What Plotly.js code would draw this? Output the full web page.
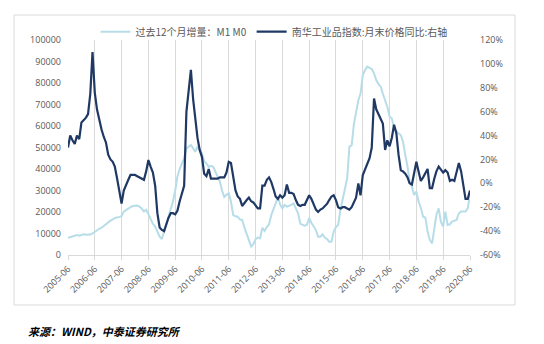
<!DOCTYPE html>
<html><head><meta charset="utf-8">
<script src="https://cdn.plot.ly/plotly-3.0.1.min.js"></script>
<style>html,body{margin:0;padding:0;background:#fff;}</style>
</head><body><div id="chart" style="width:544px;height:344px;"></div>
<script>
// Monthly series, 2005-06 .. 2020-06
const startYear = 2005, startMonthIndex = 5; // June 2005
const seriesNames = ['过去12个月增量：M1 M0', '南华工业品指数:月末价格同比:右轴'];
const m1m0Increment = [
 8000,8400,8600,9000,9300,9000,9200,9600,9400,9300,
 9500,10000,10800,11600,12200,12700,13500,14500,15500,16000,
 16600,17200,17400,17800,18100,20200,21000,21500,22300,22800,
 23000,23000,22500,21700,20200,21000,19000,16500,14500,13200,
 11000,8500,7400,10900,14000,17000,21700,24800,30000,36500,
 40000,42500,45000,49600,50500,51200,49500,48000,50400,48500,
 47300,43500,42600,41000,41500,41000,38800,36000,34000,30000,
 27000,28000,28700,24800,18600,18000,17800,16500,16300,12700,
 10000,7000,4000,5000,7400,8100,7800,12700,11200,13000,
 14300,18600,21000,24000,27000,23500,21700,23300,22500,22800,
 23300,24000,22000,19400,14500,14000,13600,14000,17200,15000,
 13000,11600,8500,8500,9600,8000,7400,6200,6200,10900,
 13000,14000,21000,26000,31000,35700,50400,51000,61000,66700,
 72000,75000,83700,86000,87600,87000,86500,84500,81400,79500,
 78300,75000,72000,69000,64300,63600,58900,57400,56500,55800,
 52700,46500,41000,34000,31800,27900,29500,24800,22000,17800,
 17400,10900,7000,5400,12400,18600,21700,15500,13200,20200,
 14000,14300,15500,16000,16300,19400,20200,20200,20200,21700,
 28000
];
const nanhuaYoY = [
 30,40,36,33,40,37,51,53,55,58,
 75,110,76,62,52,45,39,34,24,20,
 18,14,4,-8,-17,-6,-1,3,7,7,
 7,6,5,4,3,10,19.5,14,9,-2,
 -25,-37,-39,-40,-34,-29,-25,-25,-26,-23,
 -15,-8,-2,60,80,95,70,55,38,28,
 22,8,6,12,4,4,4,4,5,5,
 5,9,18,17,5,-6,-11,-13,-19,-16,
 -14,-12,-15,-16,-19,-21,-21,-2,-2,3,
 5,1,-5,-11,-13,-10,-12,-10,-1,-8,
 -8,-9,-14,-18,-19,-18,-18,-14,-10,-13,
 -18,-22,-24,-22,-21,-19,-17,-14,-11,-10,
 -14,-20,-21,-20,-20,-21,-22,-20,-16,-12,
 0,-10,7,12,17,21,30,71,62,58,
 54,50,28,36,31,38,49,42,24,11,
 10,8,5,0,-1,7,18,10,2,5,
 8,12,-4,-4,4,10,14,12,9,11,
 9,2,3,2,10,17,10,-1,-13,-13,
 -6
];
const xTickLabels = ['2005-06','2006-06','2007-06','2008-06','2009-06','2010-06','2011-06','2012-06',
 '2013-06','2014-06','2015-06','2016-06','2017-06','2018-06','2019-06','2020-06'];
const leftTicks = [0,10000,20000,30000,40000,50000,60000,70000,80000,90000,100000];
const rightTicks = [-60,-40,-20,0,20,40,60,80,100,120];
const sourceNote = '来源：WIND，中泰证券研究所';

const months = [];
for (let i = 0; i < m1m0Increment.length; i++) {
  const d = new Date(Date.UTC(startYear, startMonthIndex + i, 1));
  months.push(d.toISOString().slice(0, 10));
}

const gray = '#595959';
const font = 'Open Sans, Noto Sans CJK SC, sans-serif';
const cjk = 'Noto Sans CJK SC, sans-serif';

const traces = [
  {x: months, y: m1m0Increment, name: seriesNames[0], type: 'scatter', mode: 'lines',
   line: {color: '#b7dde8', width: 2}, yaxis: 'y'},
  {x: months, y: nanhuaYoY, name: seriesNames[1], type: 'scatter', mode: 'lines',
   line: {color: '#1f3864', width: 2.2}, yaxis: 'y2'}
];

const pl = 68, pr = 74, pt = 40, pb = 89, W = 544, H = 344;
const pw = W - pl - pr, ph = H - pt - pb;
const fx = px => (px - pl) / pw;
const fy = py => (H - pb - py) / ph;

const layout = {
  width: W, height: H,
  margin: {l: pl, r: pr, t: pt, b: pb, autoexpand: false},
  paper_bgcolor: '#fff', plot_bgcolor: '#fff',
  showlegend: true,
  legend: {orientation: 'h', x: fx(274), xanchor: 'center', y: fy(31.7), yanchor: 'middle',
    font: {family: cjk, size: 10, color: gray}, bgcolor: 'rgba(0,0,0,0)'},
  xaxis: {type: 'date', range: [months[0], xTickLabels[xTickLabels.length-1] + '-01'],
    tickvals: xTickLabels.map(s => s + '-01'), ticktext: xTickLabels, tickangle: -45,
    showgrid: true, gridcolor: '#d9d9d9', gridwidth: 1,
    showline: true, linecolor: '#d9d9d9', linewidth: 1,
    ticks: 'outside', ticklen: 4, tickcolor: '#d9d9d9',
    tickfont: {family: font, size: 9, color: gray}, zeroline: false, fixedrange: true},
  yaxis: {range: [0, 100000], tickvals: leftTicks, tickformat: 'd', showgrid: false, zeroline: false, showline: false,
    ticks: '', ticklabelstandoff: 6, tickfont: {family: font, size: 9, color: gray}},
  yaxis2: {range: [-60, 120], tickvals: rightTicks, ticktext: rightTicks.map(v => v + '%'),
    overlaying: 'y', side: 'right', showgrid: false, zeroline: false, showline: false,
    ticks: '', ticklabelstandoff: 9, tickfont: {family: font, size: 9, color: gray}},
  shapes: [{type: 'rect', xref: 'paper', yref: 'paper', x0: fx(14), x1: fx(515), y0: fy(305), y1: fy(15),
    line: {color: '#d9d9d9', width: 1}, fillcolor: 'rgba(0,0,0,0)', layer: 'below'}],
  annotations: [{text: sourceNote, xref: 'paper', yref: 'paper', x: fx(26), y: fy(331),
    xanchor: 'left', yanchor: 'middle', showarrow: false,
    font: {family: cjk, size: 11, color: '#000', weight: 'bold', style: 'italic'}}]
};

Plotly.newPlot('chart', traces, layout, {displayModeBar: false, staticPlot: true});
</script></body></html>
